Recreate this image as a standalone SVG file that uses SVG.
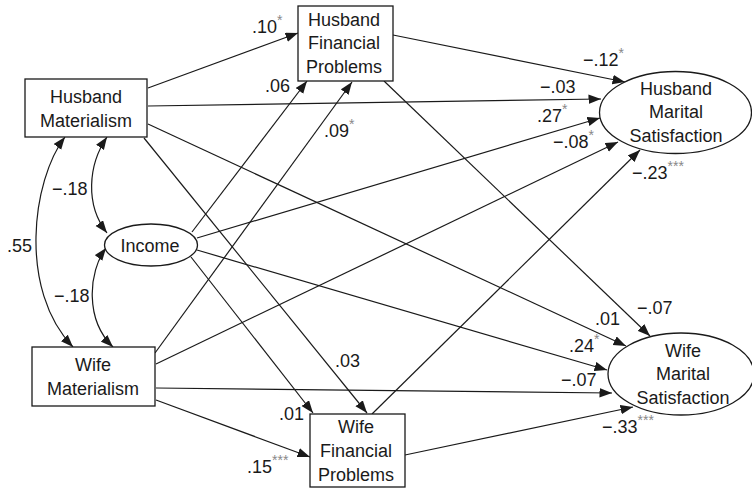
<svg xmlns="http://www.w3.org/2000/svg" width="752" height="488" viewBox="0 0 752 488">
<style>
  .node rect, .node ellipse { fill: #fff; stroke: #1a1a1a; stroke-width: 1.3; }
  text { font-family: "Liberation Sans", Arial, sans-serif; font-size: 18px; fill: #1a1a1a; }
  .nt { text-anchor: middle; }
  .edge { fill: none; stroke: #1a1a1a; stroke-width: 1.2; marker-end: url(#arr); }
  .corr { fill: none; stroke: #1a1a1a; stroke-width: 1.2; marker-start: url(#arr); marker-end: url(#arr); }
  .sig { font-size: 14px; fill: #888; }
</style>
<defs>
  <marker id="arr" markerUnits="userSpaceOnUse" markerWidth="13" markerHeight="10" refX="12.5" refY="4.75" orient="auto-start-reverse">
    <path d="M0,0 L12.5,4.75 L0,9.5 z" fill="#1a1a1a"/>
  </marker>
</defs>
<rect width="752" height="488" fill="#fff"/>

<g id="connectors">
  <path class="corr" d="M65,137 C32,180 18,290 73,347"/>
  <path class="corr" d="M107,137 C88,165 85,205 107,233"/>
  <path class="corr" d="M106,248 C88,272 85,320 113,347"/>
  <path class="edge" d="M148,88 L298,33"/>
  <path class="edge" d="M148,106 L601,99"/>
  <path class="edge" d="M148,124 L626,346"/>
  <path class="edge" d="M144,138 L367,413"/>
  <path class="edge" d="M192,232 L307,81"/>
  <path class="edge" d="M197,238 L600,118"/>
  <path class="edge" d="M197,250 L607,370"/>
  <path class="edge" d="M191,257 L313,413"/>
  <path class="edge" d="M155,353 L352,82"/>
  <path class="edge" d="M156,364 L618,142"/>
  <path class="edge" d="M156,388 L612,393"/>
  <path class="edge" d="M156,400 L310,457"/>
  <path class="edge" d="M393,35 L625,82"/>
  <path class="edge" d="M384,81 L650,336"/>
  <path class="edge" d="M372,414 L640,150"/>
  <path class="edge" d="M405,455 L633,407"/>
</g>

<g id="labels">
  <text x="252" y="33">.10<tspan class="sig" dy="-8">*</tspan></text>
  <text x="290" y="92" text-anchor="end">.06</text>
  <text x="324" y="137">.09<tspan class="sig" dy="-8">*</tspan></text>
  <text x="583" y="66">−.12<tspan class="sig" dy="-8">*</tspan></text>
  <text x="540" y="93">−.03</text>
  <text x="537" y="122">.27<tspan class="sig" dy="-8">*</tspan></text>
  <text x="553" y="148">−.08<tspan class="sig" dy="-8">*</tspan></text>
  <text x="632" y="179">−.23<tspan class="sig" dy="-8">***</tspan></text>
  <text x="52" y="195">−.18</text>
  <text x="7" y="252">.55</text>
  <text x="54" y="302">−.18</text>
  <text x="637" y="314">−.07</text>
  <text x="595" y="325">.01</text>
  <text x="569" y="352">.24<tspan class="sig" dy="-8">*</tspan></text>
  <text x="335" y="367">.03</text>
  <text x="561" y="386">−.07</text>
  <text x="279" y="420">.01</text>
  <text x="602" y="433">−.33<tspan class="sig" dy="-8">***</tspan></text>
  <text x="247" y="473">.15<tspan class="sig" dy="-8">***</tspan></text>
</g>

<g id="husband-materialism" class="node">
  <rect x="25" y="79" width="122" height="58"/>
  <text class="nt" x="86" y="103">Husband</text>
  <text class="nt" x="86" y="127">Materialism</text>
</g>
<g id="income" class="node">
  <ellipse cx="151" cy="245" rx="46.5" ry="21"/>
  <text class="nt" x="150" y="252">Income</text>
</g>
<g id="wife-materialism" class="node">
  <rect x="32" y="347" width="123" height="59"/>
  <text class="nt" x="93" y="371">Wife</text>
  <text class="nt" x="93" y="395">Materialism</text>
</g>
<g id="husband-financial-problems" class="node">
  <rect x="298" y="6" width="95" height="75"/>
  <text class="nt" x="344" y="26">Husband</text>
  <text class="nt" x="344" y="49">Financial</text>
  <text class="nt" x="344" y="73">Problems</text>
</g>
<g id="wife-financial-problems" class="node">
  <rect x="310" y="414" width="95" height="73"/>
  <text class="nt" x="356" y="433">Wife</text>
  <text class="nt" x="356" y="457">Financial</text>
  <text class="nt" x="356" y="481">Problems</text>
</g>
<g id="husband-marital-satisfaction" class="node">
  <ellipse cx="675.5" cy="112.5" rx="76" ry="41"/>
  <text class="nt" x="676" y="95">Husband</text>
  <text class="nt" x="676" y="118">Marital</text>
  <text class="nt" x="676" y="142">Satisfaction</text>
</g>
<g id="wife-marital-satisfaction" class="node">
  <ellipse cx="681" cy="374" rx="73" ry="41"/>
  <text class="nt" x="683" y="357">Wife</text>
  <text class="nt" x="683" y="380">Marital</text>
  <text class="nt" x="683" y="404">Satisfaction</text>
</g>
</svg>
